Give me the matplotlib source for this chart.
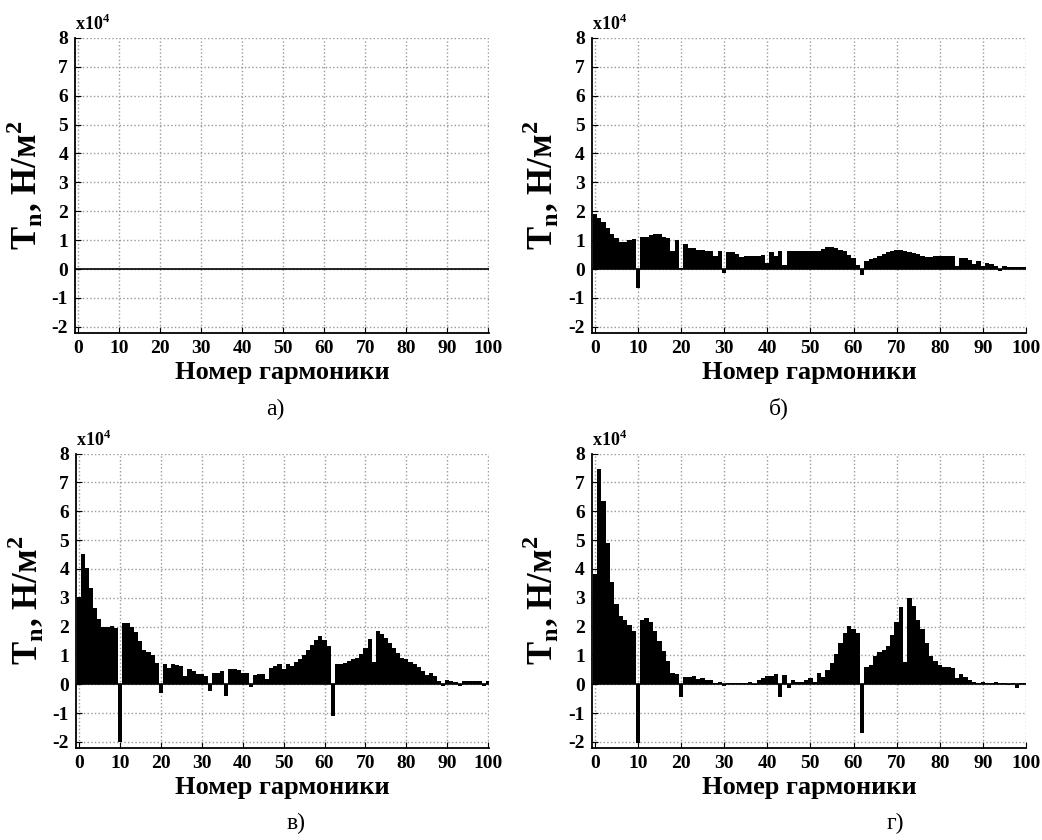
import numpy as np
import matplotlib
matplotlib.use("Agg")
import matplotlib.pyplot as plt

plt.rcParams['font.family'] = ['Liberation Serif', 'DejaVu Serif']
plt.rcParams['mathtext.fontset'] = 'custom'
plt.rcParams['mathtext.rm'] = 'Liberation Serif'
plt.rcParams['mathtext.bf'] = 'Liberation Serif:bold'
plt.rcParams['axes.unicode_minus'] = False

harmonics = np.arange(0, 101)

# amplitudes, x10^4 N/m^2
tn_a = [0.0] * 101

tn_b = [1.9, 1.78, 1.64, 1.43, 1.2, 1.06, 0.94, 0.94, 1.0, 1.03,
        -0.64, 1.12, 1.12, 1.17, 1.2, 1.2, 1.12, 1.08, 0.62, 1.0,
        0.05, 0.85, 0.73, 0.73, 0.67, 0.67, 0.64, 0.64, 0.45, 0.64,
        -0.14, 0.6, 0.58, 0.52, 0.42, 0.45, 0.45, 0.45, 0.45, 0.48,
        0.2, 0.6, 0.45, 0.62, 0.15, 0.62, 0.62, 0.62, 0.62, 0.62,
        0.62, 0.62, 0.62, 0.7, 0.75, 0.75, 0.73, 0.67, 0.64, 0.5,
        0.38, 0.15, -0.2, 0.28, 0.36, 0.38, 0.45, 0.52, 0.6, 0.64,
        0.66, 0.66, 0.64, 0.6, 0.56, 0.52, 0.45, 0.4, 0.43, 0.45,
        0.45, 0.45, 0.45, 0.45, 0.1, 0.38, 0.38, 0.33, 0.17, 0.28,
        0.1, 0.2, 0.18, 0.12, -0.08, 0.12, 0.07, 0.06, 0.06, 0.06, 0.06]

tn_c = [3.03, 4.5, 4.03, 3.34, 2.63, 2.25, 2.0, 2.0, 2.02, 1.94,
        -2.0, 2.11, 2.11, 2.0, 1.8, 1.49, 1.18, 1.11, 1.0, 0.74,
        -0.29, 0.69, 0.57, 0.69, 0.65, 0.63, 0.29, 0.54, 0.46, 0.34,
        0.34, 0.29, -0.23, 0.38, 0.4, 0.46, -0.4, 0.54, 0.51, 0.49,
        0.4, 0.38, -0.1, 0.32, 0.34, 0.37, 0.19, 0.57, 0.63, 0.69,
        0.51, 0.69, 0.63, 0.77, 0.88, 1.03, 1.2, 1.37, 1.54, 1.66,
        1.52, 1.34, -1.09, 0.69, 0.69, 0.74, 0.8, 0.86, 0.91, 1.06,
        1.26, 1.57, 0.77, 1.85, 1.75, 1.6, 1.43, 1.26, 1.09, 0.91,
        0.86, 0.77, 0.69, 0.61, 0.46, 0.31, 0.4, 0.29, 0.11, -0.05,
        0.15, 0.11, 0.08, -0.08, 0.11, 0.1, 0.1, 0.1, 0.1, -0.05, 0.1]

tn_d = [3.84, 7.45, 6.34, 4.9, 3.56, 2.79, 2.38, 2.22, 2.07, 1.86,
        -2.03, 2.22, 2.28, 2.15, 1.85, 1.51, 1.14, 0.79, 0.38, 0.36,
        -0.43, 0.24, 0.24, 0.27, 0.17, 0.21, 0.15, 0.13, 0.03, 0.09,
        -0.08, 0.03, 0.03, 0.03, 0.03, 0.03, 0.07, -0.03, 0.15, 0.21,
        0.27, 0.3, 0.34, -0.43, 0.33, -0.12, 0.13, 0.07, 0.09, 0.15,
        0.21, 0.09, 0.38, 0.24, 0.5, 0.73, 1.06, 1.43, 1.76, 2.01,
        1.9, 1.76, -1.71, 0.59, 0.67, 0.97, 1.1, 1.2, 1.34, 1.72,
        2.15, 2.69, 0.77, 3.0, 2.71, 2.24, 1.9, 1.43, 0.97, 0.79,
        0.67, 0.59, 0.58, 0.56, 0.21, 0.35, 0.24, 0.13, 0.06, 0.03,
        0.07, 0.04, 0.04, 0.06, 0.03, 0.05, -0.03, 0.05, -0.12, 0.03, 0.03]

panels = [tn_a, tn_b, tn_c, tn_d]
letters = ['а)', 'б)', 'в)', 'г)']
xticks = list(range(0, 101, 10))
yticks = list(range(-2, 9))

# axes rectangles [left, bottom, width, height]
rects = [[0.072, 0.604, 0.397, 0.351],
         [0.568, 0.604, 0.417, 0.351],
         [0.073, 0.110, 0.396, 0.350],
         [0.568, 0.110, 0.417, 0.350]]
# panel letter positions (figure fraction)
letter_pos = [(0.264, 0.512), (0.747, 0.514), (0.284, 0.020), (0.859, 0.020)]

fig = plt.figure(figsize=(10.42, 8.4), dpi=100)

for vals, letter, r, lp in zip(panels, letters, rects, letter_pos):
    ax = fig.add_axes(r)
    ax.set_axisbelow(True)
    ax.grid(True, linestyle=':', color='#999999', linewidth=1.0)
    ax.bar(harmonics, vals, width=1.0, color='black', linewidth=0)
    ax.axhline(0, color='black', linewidth=1.2)
    ax.set_xlim(-0.7, 100.1)
    ax.set_ylim(-2.2, 8)
    ax.set_xticks(xticks)
    ax.set_yticks(yticks)
    ax.tick_params(direction='in', length=4, labelsize=14, pad=5)
    for lbl in ax.get_xticklabels() + ax.get_yticklabels():
        lbl.set_fontweight('bold')
    ax.spines['top'].set_visible(False)
    ax.spines['right'].set_visible(False)
    ax.spines['left'].set_linewidth(1.3)
    ax.spines['bottom'].set_linewidth(1.3)
    ax.set_xlabel('Номер гармоники', fontsize=19, fontweight='bold', labelpad=3)
    ax.set_ylabel(r'T$_{\mathbf{n}}$, Н/м$^{\mathbf{2}}$', fontsize=25,
                  fontweight='bold', labelpad=5)
    ax.text(0.0, 1.012, r'x10$^{\mathbf{4}}$', transform=ax.transAxes,
            fontsize=13, fontweight='bold', ha='left', va='bottom')
    fig.text(lp[0], lp[1], letter, fontsize=17, ha='center', va='center')

fig.savefig('out.png', dpi=100)
